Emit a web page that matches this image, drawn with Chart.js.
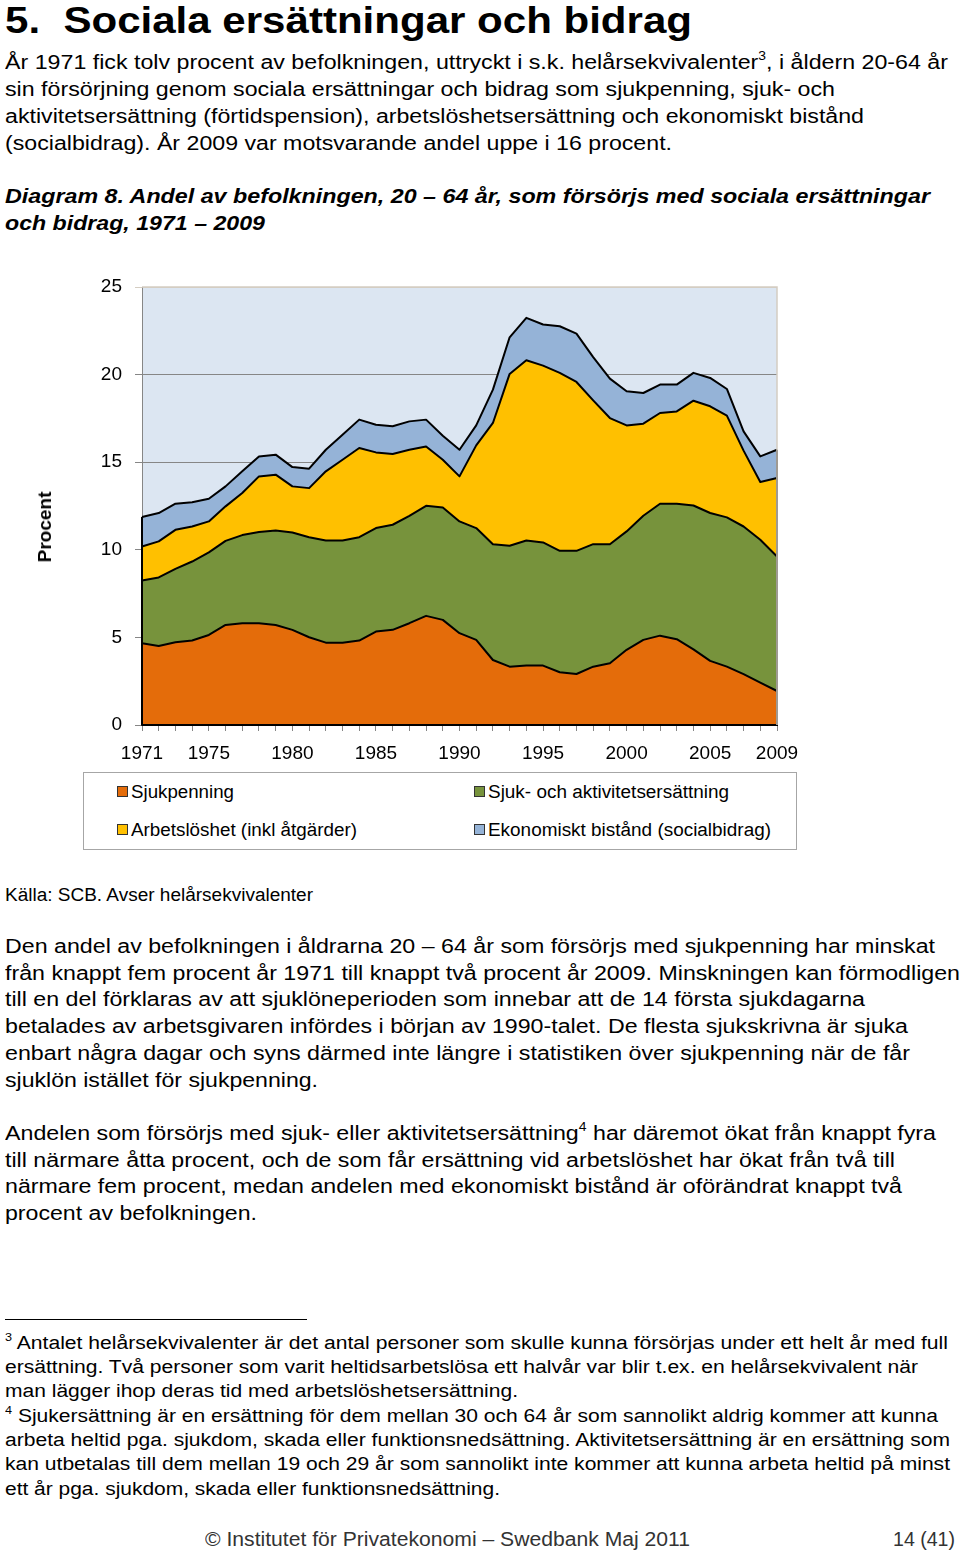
<!DOCTYPE html>
<html>
<head>
<meta charset="utf-8">
<script src="https://cdn.jsdelivr.net/npm/chart.js@4/dist/chart.umd.min.js"></script>
<style>
  html, body { margin:0; padding:0; background:#fff; }
  body { width:960px; height:1551px; position:relative; overflow:hidden; font-family:"Liberation Sans", Arial, sans-serif; color:#000; }
  .ln { position:absolute; white-space:nowrap; line-height:1; transform-origin:0 0; display:inline-block; }
  .ln sup { font-size:0.6em; line-height:0; vertical-align:0.75em; }
  #chartBox { position:absolute; left:0; top:250px; width:820px; height:520px; }
  #ytitle { position:absolute; left:45px; top:527px; font-weight:bold; font-size:19px; white-space:nowrap; transform:translate(-50%,-50%) rotate(-90deg); }
  #legend { position:absolute; left:83px; top:772px; width:712px; height:76px; border:1px solid #a6a6a6; }
  .lg { position:absolute; font-size:18px; line-height:1; white-space:nowrap; }
  #legend i { position:absolute; display:block; width:9px; height:9px; border:1px solid #333; }
  #rule { position:absolute; left:5px; top:1319px; width:302px; height:1px; background:#000; }
</style>
</head>
<body>
<div id="texts"></div>
<div id="chartBox"><canvas id="c" width="820" height="520"></canvas></div>
<div id="ytitle">Procent</div>
<div id="legend"></div>
<div id="rule"></div>
<script>
// ---------- Data ----------
const years = [1971,1972,1973,1974,1975,1976,1977,1978,1979,1980,1981,1982,1983,1984,1985,1986,1987,1988,1989,1990,1991,1992,1993,1994,1995,1996,1997,1998,1999,2000,2001,2002,2003,2004,2005,2006,2007,2008,2009];
const shownYears = [1971,1975,1980,1985,1990,1995,2000,2005,2009];
const yTicks = [0,5,10,15,20,25];
const seriesNames = ["Sjukpenning","Sjuk- och aktivitetsersättning","Arbetslöshet (inkl åtgärder)","Ekonomiskt bistånd (socialbidrag)"];
const sjukpenning = [4.67,4.51,4.72,4.82,5.14,5.71,5.81,5.81,5.71,5.43,5.01,4.70,4.70,4.82,5.33,5.43,5.81,6.23,6.00,5.24,4.86,3.71,3.33,3.39,3.39,3.01,2.91,3.33,3.52,4.29,4.86,5.10,4.90,4.32,3.66,3.33,2.90,2.42,1.94];
const sjukAktivitet = [3.58,3.91,4.19,4.51,4.71,4.80,5.03,5.20,5.39,5.56,5.71,5.83,5.83,5.90,5.91,6.00,6.13,6.28,6.42,6.38,6.38,6.61,6.90,7.14,7.03,6.93,7.03,6.99,6.80,6.76,7.08,7.53,7.73,8.21,8.44,8.52,8.43,8.15,7.68];
const arbetsloshet = [1.94,2.06,2.23,2.00,1.77,1.97,2.40,3.18,3.19,2.63,2.80,3.95,4.61,5.09,4.32,4.04,3.77,3.39,2.72,2.57,4.72,6.92,9.81,10.29,10.09,10.16,9.64,8.21,7.20,6.05,5.26,5.18,5.27,5.98,6.09,5.81,4.33,3.30,4.48];
const bistand = [1.68,1.62,1.49,1.39,1.29,1.14,1.24,1.14,1.14,1.10,1.11,1.23,1.43,1.62,1.58,1.58,1.62,1.53,1.37,1.52,1.14,1.90,2.09,2.42,2.35,2.66,2.76,2.47,2.25,1.95,1.75,1.62,1.53,1.59,1.62,1.52,1.10,1.46,1.61];
const seriesColors = ["#e46c0a","#77933c","#ffc000","#95b3d7"];

// ---------- Page text ----------
// [html, left, centerY, targetWidth, fontSize, extraStyle]
const lines = [
 ["5.&nbsp;&nbsp;Sociala ersättningar och bidrag",5,20,687,37,"font-weight:bold"],
 ["År 1971 fick tolv procent av befolkningen, uttryckt i s.k. helårsekvivalenter<sup>3</sup>, i åldern 20-64 år",5,62,943,20,""],
 ["sin försörjning genom sociala ersättningar och bidrag som sjukpenning, sjuk- och",5,89,830,20,""],
 ["aktivitetsersättning (förtidspension), arbetslöshetsersättning och ekonomiskt bistånd",5,116,859,20,""],
 ["(socialbidrag). År 2009 var motsvarande andel uppe i 16 procent.",5,143,667,20,""],
 ["Diagram 8. Andel av befolkningen, 20 – 64 år, som försörjs med sociala ersättningar",5,196,925,20,"font-weight:bold;font-style:italic"],
 ["och bidrag, 1971 – 2009",5,223,260,20,"font-weight:bold;font-style:italic"],
 ["Källa: SCB. Avser helårsekvivalenter",5,895,308,18,""],
 ["Den andel av befolkningen i åldrarna 20 – 64 år som försörjs med sjukpenning har minskat",5,946,930,20,""],
 ["från knappt fem procent år 1971 till knappt två procent år 2009. Minskningen kan förmodligen",5,973,955,20,""],
 ["till en del förklaras av att sjuklöneperioden som innebar att de 14 första sjukdagarna",5,999,860,20,""],
 ["betalades av arbetsgivaren infördes i början av 1990-talet. De flesta sjukskrivna är sjuka",5,1026,903,20,""],
 ["enbart några dagar och syns därmed inte längre i statistiken över sjukpenning när de får",5,1053,905,20,""],
 ["sjuklön istället för sjukpenning.",5,1080,313,20,""],
 ["Andelen som försörjs med sjuk- eller aktivitetsersättning<sup>4</sup> har däremot ökat från knappt fyra",5,1133,931,20,""],
 ["till närmare åtta procent, och de som får ersättning vid arbetslöshet har ökat från två till",5,1160,890,20,""],
 ["närmare fem procent, medan andelen med ekonomiskt bistånd är oförändrat knappt två",5,1186,897,20,""],
 ["procent av befolkningen.",5,1213,252,20,""],
 ["<sup>3</sup> Antalet helårsekvivalenter är det antal personer som skulle kunna försörjas under ett helt år med full",5,1343,943,18,""],
 ["ersättning. Två personer som varit heltidsarbetslösa ett halvår var blir t.ex. en helårsekvivalent när",5,1367,913,18,""],
 ["man lägger ihop deras tid med arbetslöshetsersättning.",5,1391,513,18,""],
 ["<sup>4</sup> Sjukersättning är en ersättning för dem mellan 30 och 64 år som sannolikt aldrig kommer att kunna",5,1416,933,18,""],
 ["arbeta heltid pga. sjukdom, skada eller funktionsnedsättning. Aktivitetsersättning är en ersättning som",5,1440,945,18,""],
 ["kan utbetalas till dem mellan 19 och 29 år som sannolikt inte kommer att kunna arbeta heltid på minst",5,1464,945,18,""],
 ["ett år pga. sjukdom, skada eller funktionsnedsättning.",5,1489,495,18,""],
 ["© Institutet för Privatekonomi – Swedbank Maj 2011",205,1539,485,20,"color:#333"],
 ["14 (41)",893,1539,62,20,"color:#333"]
];
const tb = document.getElementById('texts');
lines.forEach(([h,x,cy,w,fs,st])=>{
  const s = document.createElement('span');
  s.className='ln'; s.innerHTML=h;
  s.style.cssText = `left:${x}px;top:${cy-0.49*fs}px;font-size:${fs}px;${st}`;
  s.dataset.w = w;
  tb.appendChild(s);
});

// ---------- Legend (HTML, from series names/colors) ----------
const lg = document.getElementById('legend');
const lgPos = [[33,19],[390,19],[33,57],[390,57]];
const lgTargets = [103,241,226,283];
seriesNames.forEach((n,i)=>{
  const m = document.createElement('i');
  m.style.background = seriesColors[i];
  m.style.left = (lgPos[i][0])+'px';
  m.style.top = (lgPos[i][1]-6)+'px';
  lg.appendChild(m);
  const d = document.createElement('div');
  d.className='lg';
  d.style.left = (lgPos[i][0]+14)+'px';
  d.style.top = (lgPos[i][1]-9)+'px';
  d.style.transformOrigin='0 0';
  d.textContent = n;
  d.dataset.w = lgTargets[i];
  lg.appendChild(d);
});

function fitAll(){
  document.querySelectorAll('[data-w]').forEach(el=>{
    const w = el.getBoundingClientRect().width;
    if (w>0) el.style.transform = `scaleX(${(+el.dataset.w)/w})`;
  });
}
fitAll();

// ---------- Chart ----------
const plotBg = {
  id:'plotBg',
  beforeDraw(chart){
    const {ctx, chartArea:a} = chart;
    ctx.save();
    ctx.fillStyle = '#dce6f2';
    ctx.fillRect(a.left, a.top, a.right-a.left, a.bottom-a.top);
    ctx.restore();
  },
  afterDraw(chart){
    const {ctx, chartArea:a} = chart;
    ctx.save();
    ctx.strokeStyle = '#d4cdc2';
    ctx.lineWidth = 1.5;
    ctx.beginPath();
    ctx.moveTo(a.left, a.top); ctx.lineTo(a.right, a.top); ctx.lineTo(a.right, a.bottom);
    ctx.stroke();
    ctx.restore();
  },
  afterDatasetsDraw(chart){
    // outline edges of stacked area polygons (first/last category and baseline)
    const {ctx} = chart;
    const ys = chart.scales.y;
    const topMeta = chart.getDatasetMeta(chart.data.datasets.length-1);
    const pts = topMeta.data;
    const y0 = ys.getPixelForValue(0);
    ctx.save();
    ctx.strokeStyle = '#000';
    ctx.lineWidth = 2;
    ctx.lineJoin = 'round';
    ctx.beginPath();
    ctx.moveTo(pts[0].x, pts[0].y);
    ctx.lineTo(pts[0].x, y0);
    ctx.lineTo(pts[pts.length-1].x, y0);
    ctx.lineTo(pts[pts.length-1].x, pts[pts.length-1].y);
    ctx.stroke();
    ctx.restore();
  }
};

const seriesData = [sjukpenning, sjukAktivitet, arbetsloshet, bistand];
new Chart(document.getElementById('c'), {
  type:'line',
  data:{
    labels: years,
    datasets: seriesData.map((d,i)=>({
      label: seriesNames[i],
      data: d,
      fill: i===0 ? 'origin' : '-1',
      backgroundColor: seriesColors[i],
      borderColor:'#000',
      borderWidth:2,
      pointRadius:0,
      tension:0,
      borderJoinStyle:'round'
    }))
  },
  options:{
    responsive:false,
    animation:false,
    devicePixelRatio:1,
    layout:{padding:{top:37,right:43,left:0,bottom:0}},
    plugins:{legend:{display:false}, tooltip:{enabled:false}},
    scales:{
      x:{
        type:'category',
        offset:false,
        grid:{drawOnChartArea:false, drawTicks:true, tickLength:6, color:'#868686'},
        border:{display:true, color:'#000', width:1},
        ticks:{
          autoSkip:false, maxRotation:0, padding:11,
          color:'#000', font:{family:'"Liberation Sans", Arial, sans-serif', size:19},
          callback:(v,i)=> shownYears.includes(years[i]) ? String(years[i]) : ''
        },
        afterFit:(s)=>{ s.height = 45; }
      },
      y:{
        stacked:true,
        min:0, max:25,
        afterBuildTicks:(s)=>{ s.ticks = yTicks.map(v=>({value:v})); },
        grid:{
          tickLength:7,
          color:(c)=> c.tick && c.tick.value===25 ? '#d4cdc2' : '#868686',
          lineWidth:1
        },
        border:{display:true, color:'#868686', width:1},
        ticks:{padding:13, color:'#000', font:{family:'"Liberation Sans", Arial, sans-serif', size:19}},
        afterFit:(s)=>{ s.width = 142; }
      }
    }
  },
  plugins:[plotBg]
});
</script>
</body>
</html>
